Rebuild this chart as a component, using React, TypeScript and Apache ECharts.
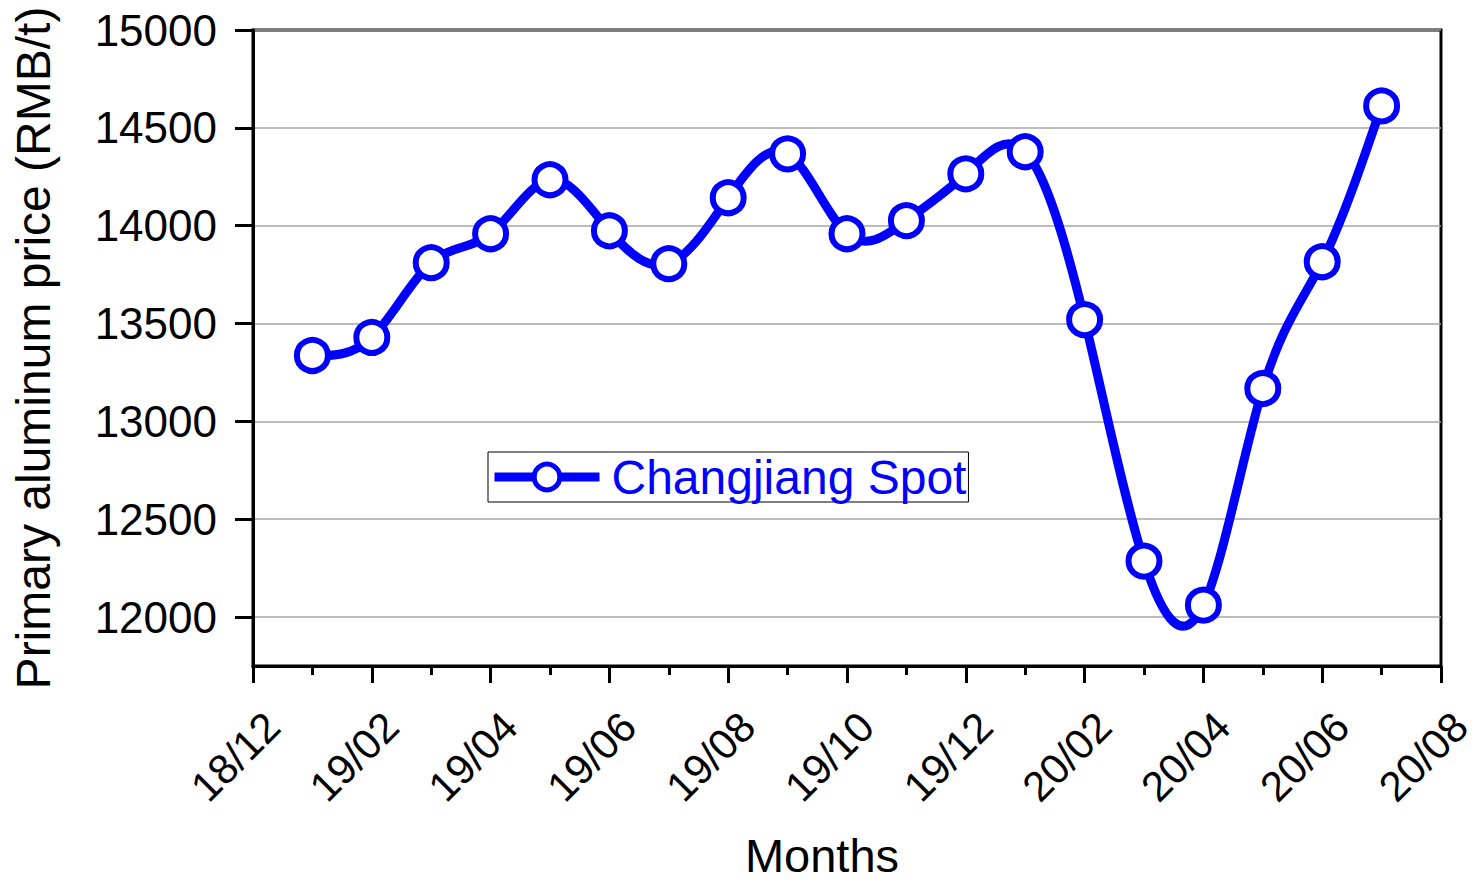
import React, { useEffect, useRef } from "react";
import * as echarts from "echarts";

const months = [
  "19/01", "19/02", "19/03", "19/04", "19/05", "19/06", "19/07", "19/08", "19/09", "19/10",
  "19/11", "19/12", "20/01", "20/02", "20/03", "20/04", "20/05", "20/06", "20/07",
];
const prices = [
  13337, 13429, 13811, 13959, 14235, 13974, 13806, 14143, 14367, 13959,
  14026, 14265, 14378, 13520, 12286, 12061, 13168, 13816, 14612,
];
const xTickLabels = [
  "18/12", "19/02", "19/04", "19/06", "19/08", "19/10", "19/12", "20/02", "20/04", "20/06", "20/08",
];
const yTicks = [12000, 12500, 13000, 13500, 14000, 14500, 15000];

const FONT = "Liberation Sans, Arial, sans-serif";
const BLUE = "#0000ff";

// Natural cubic spline slopes (uniform spacing h = 1) for drawing the smooth connection.
function splineSlopes(y: number[]): number[] {
  const n = y.length - 1;
  const M = new Array(n + 1).fill(0);
  if (n >= 2) {
    const a: number[] = [], b: number[] = [], c: number[] = [], d: number[] = [];
    for (let i = 1; i < n; i++) {
      a.push(1); b.push(4); c.push(1);
      d.push(6 * (y[i + 1] - 2 * y[i] + y[i - 1]));
    }
    const m = d.length;
    const cp = new Array(m).fill(0), dp = new Array(m).fill(0);
    cp[0] = c[0] / b[0]; dp[0] = d[0] / b[0];
    for (let i = 1; i < m; i++) {
      const den = b[i] - a[i] * cp[i - 1];
      cp[i] = c[i] / den;
      dp[i] = (d[i] - a[i] * dp[i - 1]) / den;
    }
    const sol = new Array(m).fill(0);
    sol[m - 1] = dp[m - 1];
    for (let i = m - 2; i >= 0; i--) sol[i] = dp[i] - cp[i] * sol[i + 1];
    for (let i = 1; i < n; i++) M[i] = sol[i - 1];
  }
  const s: number[] = [];
  for (let i = 0; i < n; i++) s.push(y[i + 1] - y[i] - (2 * M[i] + M[i + 1]) / 6);
  s.push(y[n] - y[n - 1] + (M[n - 1] + 2 * M[n]) / 6);
  return s;
}

export default function App() {
  const ref = useRef<HTMLDivElement>(null);
  useEffect(() => {
    if (!ref.current) return;
    const chart = echarts.init(ref.current, undefined, { renderer: "svg" });
    const xs = months.map((_, i) => i + 1);
    const data = prices.map((p, i) => [xs[i], p]);
    const slopes = splineSlopes(prices);

    chart.setOption({
      animation: false,
      backgroundColor: "#ffffff",
      grid: {
        left: 253,
        top: 30,
        right: 36,
        bottom: 218,
        outerBoundsMode: "none",
        containLabel: false,
        show: true,
        borderColor: "#000",
        borderWidth: 3,
        backgroundColor: "transparent",
      },
      legend: {
        show: true,
        left: 488,
        top: 452,
        orient: "horizontal",
        borderColor: "#000",
        borderWidth: 1,
        padding: [1, 2, 1, 2],
        itemWidth: 105,
        itemHeight: 32,
        lineStyle: { color: BLUE, width: 9, opacity: 1 },
        itemStyle: { color: "#ffffff", borderColor: BLUE, borderWidth: 5 },
        textStyle: {
          color: BLUE,
          fontSize: 48,
          fontFamily: FONT,
          padding: [0, 0, 0, 7],
          lineHeight: 46,
        },
        data: ["Changjiang Spot"],
      },
      xAxis: {
        type: "value",
        min: 0,
        max: 20,
        interval: 2,
        name: "Months",
        nameLocation: "middle",
        nameGap: 166,
        nameTextStyle: {
          fontSize: 47,
          lineHeight: 46,
          fontFamily: FONT,
          color: "#000",
          padding: [0, 50, 0, 0],
        },
        axisLine: { show: true, onZero: false, lineStyle: { color: "#000", width: 3 } },
        axisTick: { show: true, inside: false, length: 17, lineStyle: { color: "#000", width: 3 } },
        minorTick: { show: true, splitNumber: 2, length: 9, lineStyle: { color: "#000", width: 3 } },
        splitLine: { show: false },
        minorSplitLine: { show: false },
        axisLabel: {
          rotate: 45,
          margin: 73,
          align: "center",
          verticalAlign: "middle",
          fontSize: 42,
          lineHeight: 38,
          fontFamily: FONT,
          color: "#000",
          padding: [0, 50, 0, 0],
          formatter: (v: number) => {
            const idx = Math.round(v / 2);
            return xTickLabels[idx] ?? "";
          },
        },
      },
      yAxis: {
        type: "value",
        min: 11750,
        max: 15000,
        splitNumber: 6,
        name: "Primary aluminum price (RMB/t)",
        nameLocation: "middle",
        nameRotate: 90,
        nameGap: 196,
        nameTextStyle: { fontSize: 48, fontFamily: FONT, color: "#000" },
        axisLine: { show: true, lineStyle: { color: "#000", width: 3 } },
        axisTick: {
          show: true,
          inside: false,
          length: 18,
          customValues: yTicks,
          lineStyle: { color: "#000", width: 3 },
        },
        axisLabel: {
          margin: 36,
          fontSize: 44,
          fontFamily: FONT,
          color: "#000",
          customValues: yTicks,
          formatter: (v: number) => (v % 500 === 0 ? String(v) : ""),
        },
        splitLine: { show: true, lineStyle: { color: "#a6a6a6", width: 1.5 } },
      },
      series: [
        {
          name: "spline",
          type: "custom",
          data,
          silent: true,
          z: 2,
          renderItem: (params: any, api: any) => {
            if (params.dataIndex !== 0) return null;
            const p0 = api.coord([xs[0], prices[0]]);
            let d = `M${p0[0]},${p0[1]}`;
            for (let i = 0; i < prices.length - 1; i++) {
              const h = xs[i + 1] - xs[i];
              const c1 = api.coord([xs[i] + h / 3, prices[i] + (slopes[i] * h) / 3]);
              const c2 = api.coord([xs[i + 1] - h / 3, prices[i + 1] - (slopes[i + 1] * h) / 3]);
              const p = api.coord([xs[i + 1], prices[i + 1]]);
              d += ` C${c1[0]},${c1[1]} ${c2[0]},${c2[1]} ${p[0]},${p[1]}`;
            }
            return {
              type: "path",
              shape: { pathData: d },
              style: { fill: "none", stroke: BLUE, lineWidth: 9, lineJoin: "round", lineCap: "round" },
            };
          },
        },
        {
          name: "Changjiang Spot",
          type: "line",
          data,
          symbol: "circle",
          symbolSize: 31,
          lineStyle: { color: BLUE, width: 0, opacity: 0 },
          itemStyle: { color: "#ffffff", borderColor: BLUE, borderWidth: 6 },
          z: 3,
        },
      ],
    });
    return () => chart.dispose();
  }, []);
  return (
    <div
      ref={ref}
      style={{ position: "fixed", left: 0, top: 0, width: 1477, height: 884, background: "#fff" }}
    />
  );
}
